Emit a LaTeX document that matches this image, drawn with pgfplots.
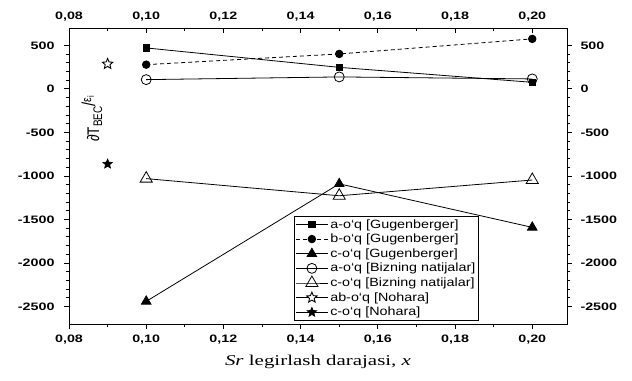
\documentclass[border=0pt]{standalone}
\usepackage{pgfplots}
\pgfplotsset{compat=1.18}
\usepackage{fontspec}
\setmainfont{Liberation Sans}
\newfontfamily\seriffont{Liberation Serif}
\newcommand\tklab[1]{\scalebox{1.33}[1]{#1}}
\newcommand\legtxt[1]{\scalebox{1.2}[1]{#1}}
\pgfdeclareplotmark{star5}{%
  \pgfpathmoveto{\pgfpointpolar{90}{\pgfplotmarksize}}%
  \pgfpathlineto{\pgfpointpolar{126}{0.45\pgfplotmarksize}}%
  \pgfpathlineto{\pgfpointpolar{162}{\pgfplotmarksize}}%
  \pgfpathlineto{\pgfpointpolar{198}{0.45\pgfplotmarksize}}%
  \pgfpathlineto{\pgfpointpolar{234}{\pgfplotmarksize}}%
  \pgfpathlineto{\pgfpointpolar{270}{0.45\pgfplotmarksize}}%
  \pgfpathlineto{\pgfpointpolar{306}{\pgfplotmarksize}}%
  \pgfpathlineto{\pgfpointpolar{342}{0.45\pgfplotmarksize}}%
  \pgfpathlineto{\pgfpointpolar{18}{\pgfplotmarksize}}%
  \pgfpathlineto{\pgfpointpolar{54}{0.45\pgfplotmarksize}}%
  \pgfpathclose
  \pgfusepathqfillstroke}
\begin{document}
\begin{tikzpicture}
\pgfplotsset{
  common/.style={
    scale only axis, width=498bp, height=296bp,
    xmin=0.08, xmax=0.209, ymin=-2700, ymax=700,
    xtick={0.08,0.10,0.12,0.14,0.16,0.18,0.20}, minor x tick num=1,
    xticklabels={\tklab{0,08},\tklab{0,10},\tklab{0,12},\tklab{0,14},\tklab{0,16},\tklab{0,18},\tklab{0,20}},
    ytick={-2500,-2000,-1500,-1000,-500,0,500}, minor y tick num=4,
    yticklabels={\tklab{-2500},\tklab{-2000},\tklab{-1500},\tklab{-1000},\tklab{-500},\tklab{0},\tklab{500}},
    major tick length=5bp, minor tick length=3bp,
    every tick/.style={black, line width=0.9pt},
    axis line style={line width=1pt},
    xticklabel style={font=\bfseries\fontsize{10.8}{12}\selectfont},
    yticklabel style={font=\bfseries\fontsize{10.8}{12}\selectfont},
  },
}
\begin{axis}[common, xtick pos=bottom, ytick pos=left, tick align=outside, clip=false,
  xticklabel style={yshift=-2bp}, yticklabel style={xshift=-6bp},
  legend style={at={(rel axis cs:0.452,0.365)}, anchor=north west,
    font=\fontsize{12}{13}\selectfont, draw=black, line width=0.8pt,
    inner sep=1pt, row sep=0.5bp, cells={anchor=west}},
  legend image code/.code={\draw[#1, mark repeat=2, mark phase=2] plot coordinates {(0bp,0bp) (16bp,0bp) (32bp,0bp)};},
  every axis plot/.append style={black, line width=0.8pt},
]
\coordinate (O) at (rel axis cs:0,0);
\addplot[solid, mark=square*, mark size=3.2bp] coordinates {(0.10,471) (0.15,248) (0.20,76)};
\addlegendentry{\legtxt{a-o‘q [Gugenberger]}}
\addplot[dashed, dash pattern=on 4bp off 3bp, mark=*, mark size=3.8bp, mark options={solid}] coordinates {(0.10,279) (0.15,402) (0.20,575)};
\addlegendentry{\legtxt{b-o‘q [Gugenberger]}}
\addplot[solid, mark=triangle*, mark size=5.5bp] coordinates {(0.10,-2440) (0.15,-1090) (0.20,-1590)};
\addlegendentry{\legtxt{c-o‘q [Gugenberger]}}
\addplot[solid, mark=o, mark size=5bp, mark options={fill=white}] coordinates {(0.10,107) (0.15,138) (0.20,115)};
\addlegendentry{\legtxt{a-o‘q [Bizning natijalar]}}
\addplot[solid, mark=triangle, mark size=7bp, mark options={fill=white}] coordinates {(0.10,-1030) (0.15,-1227) (0.20,-1046)};
\addlegendentry{\legtxt{c-o‘q [Bizning natijalar]}}
\addplot[solid, mark=star5, mark size=5.5bp, mark options={fill=white, line width=0.9pt}] coordinates {(0.09,287)};
\addlegendentry{\legtxt{ab-o‘q [Nohara]}}
\addplot[solid, mark=star5, mark size=5bp, mark options={fill=black, line width=0.6pt}] coordinates {(0.09,-862)};
\addlegendentry{\legtxt{c-o‘q [Nohara]}}
\node[rotate=90] at (rel axis cs:0.046,0.693)
  {\scalebox{1}[1.25]{\fontsize{13.5}{14}\selectfont ∂T\raisebox{-0.35ex}{\fontsize{10}{10}\selectfont BEC}\raisebox{0.45ex}{\fontsize{15}{15}\selectfont /}\raisebox{0.9ex}{\fontsize{10.5}{10}\selectfont ε\raisebox{-0.4ex}{\fontsize{7.5}{7}\selectfont i}}}};
\node[font=\seriffont\fontsize{15}{16}\selectfont] at ([yshift=-38bp]rel axis cs:0.5,0)
  {\scalebox{1.4}[1]{\textit{Sr} legirlash darajasi, \textit{x}}};
\end{axis}
\begin{axis}[common, xtick pos=top, xticklabel pos=top, ytick=\empty, tick align=inside,
  axis line style={draw=none}, xticklabel style={yshift=3bp}]
\end{axis}
\begin{axis}[common, ytick pos=right, yticklabel pos=right, xtick=\empty, tick align=outside,
  axis line style={draw=none}, yticklabel style={xshift=5bp}]
\end{axis}
\pgfresetboundingbox
\path ([shift={(-69bp,-57bp)}]O) rectangle ++(632bp,381bp);
\end{tikzpicture}
\end{document}
